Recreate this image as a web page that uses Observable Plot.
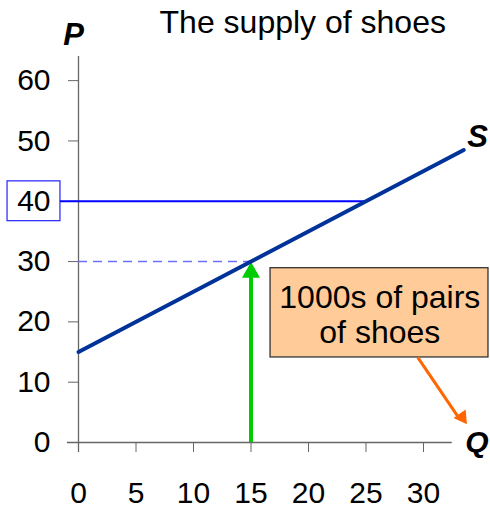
<!DOCTYPE html>
<html>
<head>
<meta charset="utf-8">
<script src="https://cdn.jsdelivr.net/npm/d3@7"></script>
<script src="https://cdn.jsdelivr.net/npm/@observablehq/plot@0.6"></script>
<style>
  html, body { margin: 0; padding: 0; background: #fff; }
</style>
</head>
<body>
<div id="chart"></div>
<script>
// ---- data ----
const title = "The supply of shoes";
const xTicks = [0, 5, 10, 15, 20, 25, 30];
const yTicks = [0, 10, 20, 30, 40, 50, 60];
const supplyQ = [0, 33.5];
const supplyP = [15, 48.5];
const highlightPrice = 40;     // price marked on the axis
const highlightQty = 25;       // quantity supplied at 40
const dashedPrice = 30;
const dashedQty = 15;
const boxText = "1000s of pairs\nof shoes";

const supply = supplyQ.map((q, i) => ({q, p: supplyP[i]}));

const plot = Plot.plot({
  width: 490,
  height: 509,
  marginLeft: 78,
  marginRight: 9.5,
  marginTop: 56,
  marginBottom: 67,
  style: {fontFamily: "'Liberation Sans', Arial, sans-serif", background: "#fff"},
  x: {domain: [0, 35], label: null},
  y: {domain: [0, 64], label: null},
  marks: [
    // axes
    Plot.axisX({ticks: xTicks, tickSize: 10, tickPadding: 29, fontSize: 30, stroke: "#666", color: "#000", label: null}),
    Plot.axisY({ticks: yTicks, tickSize: 10, tickPadding: 18, fontSize: 30, stroke: "#666", color: "#000", label: null}),
    Plot.ruleX([0], {y1: -1.66, y2: 64, stroke: "#666", strokeWidth: 1.3}),
    Plot.ruleY([0], {x1: -0.96, x2: 32.5, stroke: "#666", strokeWidth: 1.3}),
    // box around 40
    Plot.rect([highlightPrice], {x1: -6.17, x2: -1.57, y1: d => d - 3.3, y2: d => d + 3.3, fill: "none", stroke: "#3333ff", strokeWidth: 1.3}),
    // horizontal rule at 40
    Plot.ruleY([highlightPrice], {x1: -1.57, x2: highlightQty, stroke: "#0000ff", strokeWidth: 2}),
    // dashed rule at 30
    Plot.ruleY([dashedPrice], {x1: 0, x2: dashedQty, stroke: "#6f6fff", strokeWidth: 1.5, strokeDasharray: "9,6"}),
    // green arrow
    Plot.ruleX([dashedQty], {y1: 0, y2: 28, stroke: "#00cc00", strokeWidth: 4}),
    Plot.dot([dashedQty], {x: d => d, y: 28.2, symbol: "triangle", r: 6.7, fill: "#00cc00", stroke: "none"}),
    // supply line
    Plot.line(supply, {x: "q", y: "p", stroke: "#003399", strokeWidth: 4}),
    // orange box
    Plot.rect([boxText], {x1: 16.7, x2: 35.65, y1: 14.1, y2: 28.9, fill: "#ffcc99", stroke: "#333", strokeWidth: 1.3}),
    Plot.text([boxText], {x: 26.2, y: 21.3, text: d => d, fontSize: 32, lineHeight: 1.1, fill: "#000"}),
    // orange arrow
    Plot.link([0], {x1: 29.5, y1: 14.1, x2: 33.1, y2: 4.0, stroke: "#ff6600", strokeWidth: 3}),
    Plot.dot([0], {x: 33.35, y: 4.2, symbol: "triangle", r: 5.5, rotate: 145, fill: "#ff6600", stroke: "none"}),
    // labels
    Plot.text(["P"], {x: -0.43, y: 67.6, text: d => d, fontSize: 31, fontWeight: "bold", fontStyle: "italic", fill: "#000"}),
    Plot.text(["S"], {x: 34.7, y: 50.7, text: d => d, fontSize: 31, fontWeight: "bold", fontStyle: "italic", fill: "#000"}),
    Plot.text(["Q"], {x: 34.65, y: 0, text: d => d, fontSize: 30, fontWeight: "bold", fontStyle: "italic", fill: "#000"}),
    Plot.text([title], {x: 19.5, y: 69.6, text: d => d, fontSize: 32, fill: "#000"})
  ]
});
document.getElementById("chart").appendChild(plot);
</script>
</body>
</html>
